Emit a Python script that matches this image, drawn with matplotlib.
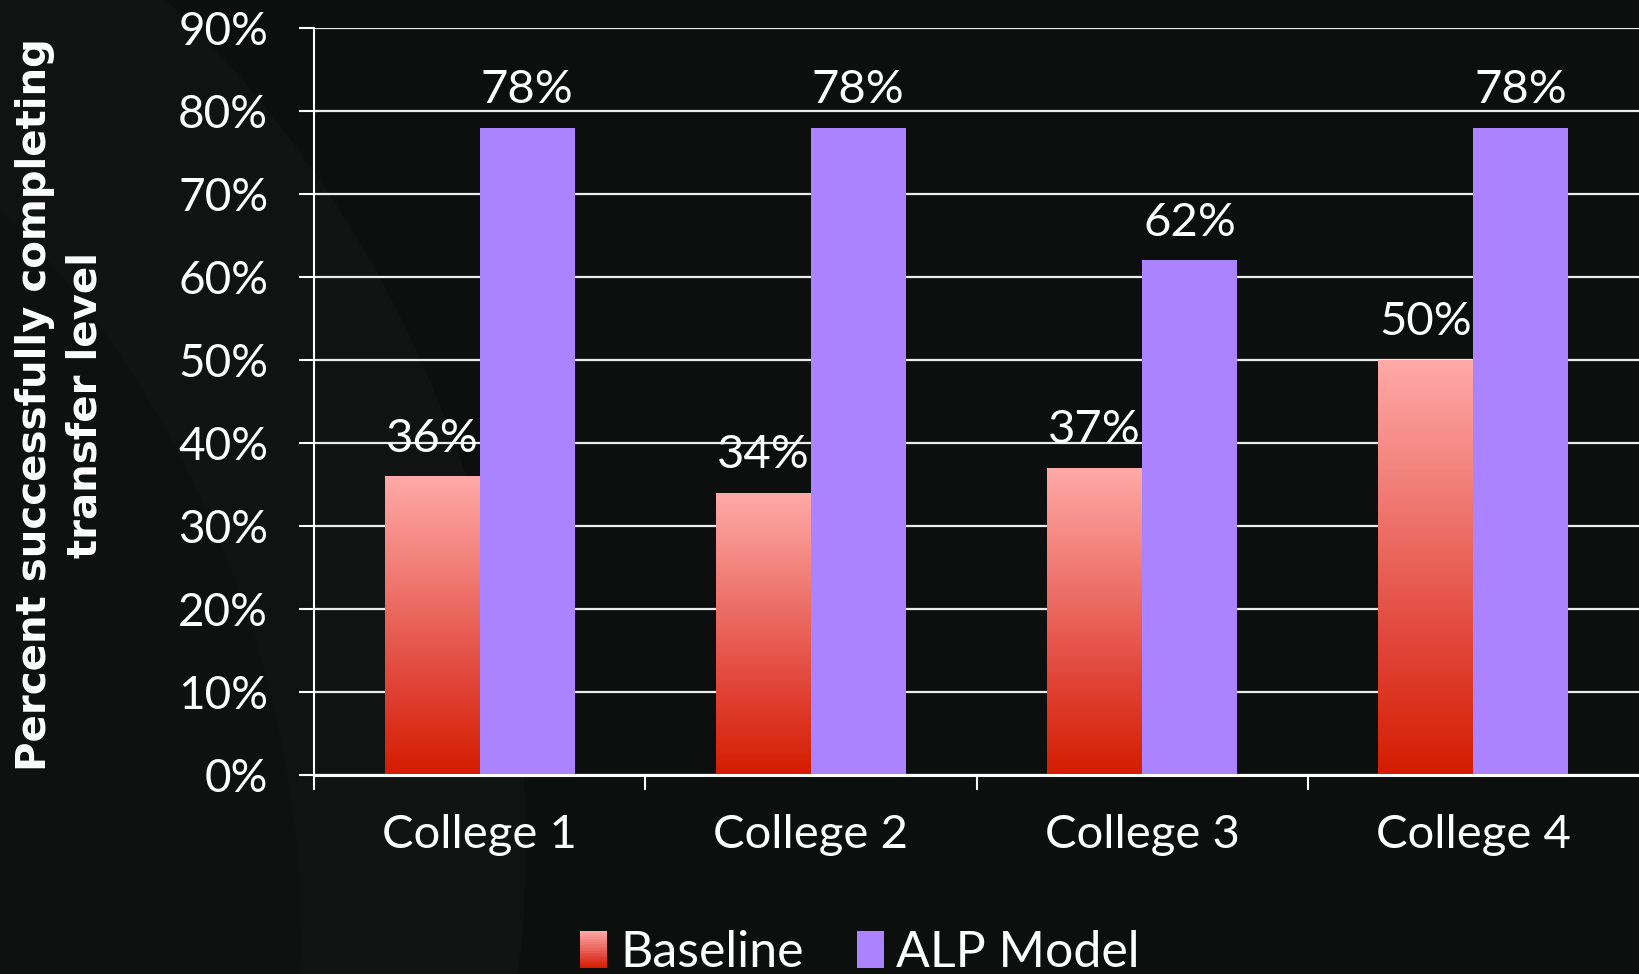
import numpy as np
import matplotlib
matplotlib.use('Agg')
import matplotlib.pyplot as plt
from matplotlib.colors import LinearSegmentedColormap
from matplotlib.patches import Rectangle, Ellipse
from matplotlib.legend_handler import HandlerBase

# data
colleges = ['College 1', 'College 2', 'College 3', 'College 4']
baseline = [36, 34, 37, 50]
alp_model = [78, 78, 62, 78]
y_ticks = [0, 10, 20, 30, 40, 50, 60, 70, 80, 90]

bg = '#0d0f0e'
purple = '#ab82ff'
red_grad = LinearSegmentedColormap.from_list(
    'baseline', ['#d41c00', '#e2483c', '#f07a73', '#ffaaa7'])

plt.rcParams['font.family'] = ['Lato', 'DejaVu Sans']
plt.rcParams['text.color'] = 'white'

fig = plt.figure(figsize=(16.39, 9.74), dpi=100, facecolor=bg)

# faint swirl in the background
bgax = fig.add_axes([0, 0, 1, 1], zorder=-10)
bgax.set_xlim(0, 1639)
bgax.set_ylim(974, 0)
bgax.axis('off')
bgax.add_patch(Ellipse((-250, 700), 1500, 1900, angle=-20,
                       facecolor='#111312', edgecolor='none'))
bgax.add_patch(Ellipse((-350, 800), 1250, 1650, angle=-20,
                       facecolor='#0f1110', edgecolor='none'))

ax = fig.add_axes([314 / 1639, 1 - 775 / 974, 1 - 314 / 1639, (775 - 28) / 974])
ax.set_facecolor('none')

x = np.arange(len(colleges))
w = 0.2866

grad = np.linspace(0, 1, 256).reshape(-1, 1)
bars_b = ax.bar(x - w / 2, baseline, w, facecolor='none', edgecolor='none', zorder=3)
for bar in bars_b:
    x0, h = bar.get_x(), bar.get_height()
    im = ax.imshow(grad, cmap=red_grad, origin='lower', aspect='auto',
                   extent=[x0, x0 + w, 0, h], zorder=3)
    im.set_clip_path(bar)
bars_a = ax.bar(x + w / 2, alp_model, w, color=purple, edgecolor='none', zorder=3)

for bars, vals in ((bars_b, baseline), (bars_a, alp_model)):
    for bar, v in zip(bars, vals):
        ax.annotate(f'{v}%', (bar.get_x() + w / 2, v), xytext=(0, 12),
                    textcoords='offset points', ha='center', va='bottom',
                    color='white', fontsize=34, zorder=5)

ax.set_xlim(-0.5, len(colleges) - 0.5)
ax.set_ylim(0, 90)
ax.set_yticks(y_ticks)
ax.set_yticklabels([f'{t}%' for t in y_ticks])
ax.yaxis.grid(True, color='#ececec', linewidth=1.6, zorder=1)
ax.set_axisbelow(True)

ax.set_xticks(x)
ax.set_xticklabels(colleges)
ax.set_xticks(np.arange(len(colleges)) - 0.5, minor=True)
ax.tick_params(axis='x', which='major', length=0, pad=28, labelsize=34, labelcolor='white')
ax.tick_params(axis='x', which='minor', length=11, width=1.5, color='white', direction='out')
ax.tick_params(axis='y', length=11, width=1.5, color='white', pad=22,
               labelsize=33, labelcolor='white')

for side in ('top', 'right'):
    ax.spines[side].set_visible(False)
ax.spines['left'].set_color('white')
ax.spines['left'].set_linewidth(1.5)
ax.spines['bottom'].set_color('white')
ax.spines['bottom'].set_linewidth(2.2)
ax.spines['bottom'].set_zorder(4)

fig.text(60 / 1639, 1 - 405 / 974, 'Percent successfully completing\ntransfer level',
         rotation=90, ha='center', va='center', multialignment='center',
         color='white', fontsize=29, fontweight='bold', family='DejaVu Sans',
         linespacing=1.33)


class GradientHandler(HandlerBase):
    def create_artists(self, legend, orig_handle, xdescent, ydescent,
                       width, height, fontsize, trans):
        n = 24
        parts = []
        for k in range(n):
            parts.append(Rectangle((-xdescent, -ydescent + height * k / n), width,
                                   height / n + 0.2, facecolor=red_grad((k + 0.5) / n),
                                   edgecolor='none', transform=trans))
        return parts


h_base = Rectangle((0, 0), 1, 1)
h_alp = Rectangle((0, 0), 1, 1, facecolor=purple, edgecolor='none')
leg = fig.legend([h_base, h_alp], ['Baseline', 'ALP Model'],
                 handler_map={h_base: GradientHandler()},
                 loc='center', bbox_to_anchor=(860 / 1639, 1 - 953 / 974),
                 ncol=2, frameon=False, fontsize=36, handlelength=0.54,
                 handleheight=0.74, handletextpad=0.26, columnspacing=1.06,
                 borderpad=0, borderaxespad=0)
for t in leg.get_texts():
    t.set_color('white')

fig.savefig('out.png', dpi=100, facecolor=bg)
